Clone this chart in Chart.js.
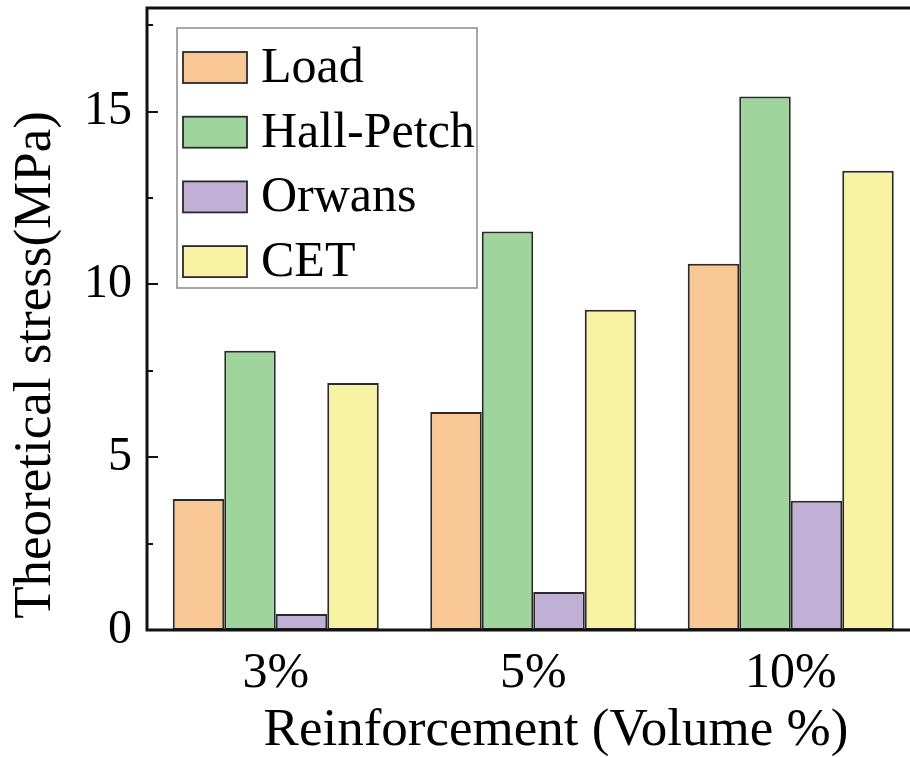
<!DOCTYPE html>
<html>
<head>
<meta charset="utf-8">
<script src="https://cdn.jsdelivr.net/npm/chart.js@4.4.1/dist/chart.umd.min.js"></script>
<style>
  html, body { margin: 0; padding: 0; background: #fff; overflow: hidden; }
  #wrap { width: 925px; height: 757px; position: relative; }
</style>
</head>
<body>
<div id="wrap"><canvas id="c"></canvas></div>
<script>
const categories = ['3%', '5%', '10%'];
const seriesNames = ['Load', 'Hall-Petch', 'Orwans', 'CET'];
const loadValues = [3.79, 6.31, 10.60];
const hallPetchValues = [8.08, 11.53, 15.44];
const orwansValues = [0.46, 1.10, 3.74];
const cetValues = [7.15, 9.27, 13.29];
const yMajorTicks = [0, 5, 10, 15];
const yMinorTicks = [2.5, 7.5, 12.5, 17.5];
const yMin = 0, yMax = 18;
const xTitle = 'Reinforcement (Volume %)';
const yTitle = 'Theoretical stress(MPa)';

const fills = ['#F9C696', '#A0D49D', '#C1B0D6', '#F8F2A3'];
const edge = '#2a2a2a';
const serif = '"Liberation Serif", "Times New Roman", serif';

const datasets = [loadValues, hallPetchValues, orwansValues, cetValues].map((vals, i) => ({
  label: seriesNames[i],
  data: vals,
  backgroundColor: fills[i],
  borderColor: edge,
  borderWidth: 2,
  borderSkipped: false,
  barPercentage: 1.0,
  categoryPercentage: 0.8
}));

const decor = {
  id: 'decor',
  afterDatasetsDraw(chart) {
    const { ctx, chartArea: a, scales: { y } } = chart;
    ctx.save();
    ctx.strokeStyle = '#111';
    ctx.lineCap = 'butt';
    // axis frame lines (left, bottom, top)
    ctx.lineWidth = 3;
    ctx.beginPath();
    ctx.moveTo(a.left, a.top); ctx.lineTo(a.right + 10, a.top);
    ctx.moveTo(a.left, a.top - 1.5); ctx.lineTo(a.left, a.bottom + 1.5);
    ctx.moveTo(a.left - 1.5, a.bottom); ctx.lineTo(a.right + 10, a.bottom);
    ctx.stroke();
    // inward ticks
    ctx.lineWidth = 2;
    ctx.beginPath();
    yMajorTicks.forEach(v => {
      const p = Math.round(y.getPixelForValue(v));
      ctx.moveTo(a.left, p); ctx.lineTo(a.left + 11, p);
    });
    yMinorTicks.forEach(v => {
      const p = Math.round(y.getPixelForValue(v));
      ctx.moveTo(a.left, p); ctx.lineTo(a.left + 6, p);
    });
    ctx.stroke();

    // legend
    ctx.fillStyle = '#fff';
    ctx.fillRect(177, 28, 300, 260);
    ctx.strokeStyle = '#8a8a8a';
    ctx.lineWidth = 1.5;
    ctx.strokeRect(177, 28, 300, 260);
    ctx.font = '50px ' + serif;
    ctx.textAlign = 'left';
    ctx.textBaseline = 'alphabetic';
    chart.data.datasets.forEach((ds, i) => {
      const top = 52 + i * 64.7;
      ctx.fillStyle = ds.backgroundColor;
      ctx.fillRect(183, top, 64, 31);
      ctx.strokeStyle = edge;
      ctx.lineWidth = 1.8;
      ctx.strokeRect(183, top, 64, 31);
      ctx.fillStyle = '#000';
      ctx.fillText(ds.label, 261, top + 30);
    });

    // axis titles
    ctx.fillStyle = '#000';
    ctx.font = '53px ' + serif;
    ctx.textAlign = 'center';
    ctx.fillText(xTitle, 556, 745);
    ctx.translate(50, 365);
    ctx.rotate(-Math.PI / 2);
    ctx.fillText(yTitle, 0, 0);
    ctx.restore();
  }
};

new Chart(document.getElementById('c'), {
  type: 'bar',
  data: { labels: categories, datasets },
  options: {
    responsive: true,
    maintainAspectRatio: false,
    animation: false,
    layout: { padding: { left: 0, right: 5.5, top: 8, bottom: 0 } },
    plugins: { legend: { display: false }, tooltip: { enabled: false } },
    scales: {
      x: {
        grid: { display: false, drawTicks: false },
        border: { display: false },
        ticks: { color: '#000', font: { family: serif, size: 50 }, padding: 14 },
        afterFit(s) { s.height = 127; }
      },
      y: {
        min: yMin, max: yMax,
        afterBuildTicks(s) { s.ticks = yMajorTicks.map(v => ({ value: v })); },
        grid: { display: false, drawTicks: false },
        border: { display: false },
        ticks: { color: '#000', font: { family: serif, size: 48 }, padding: 15 },
        afterFit(s) { s.width = 147; s.paddingTop = 0; }
      }
    }
  },
  plugins: [decor]
});
</script>
</body>
</html>
